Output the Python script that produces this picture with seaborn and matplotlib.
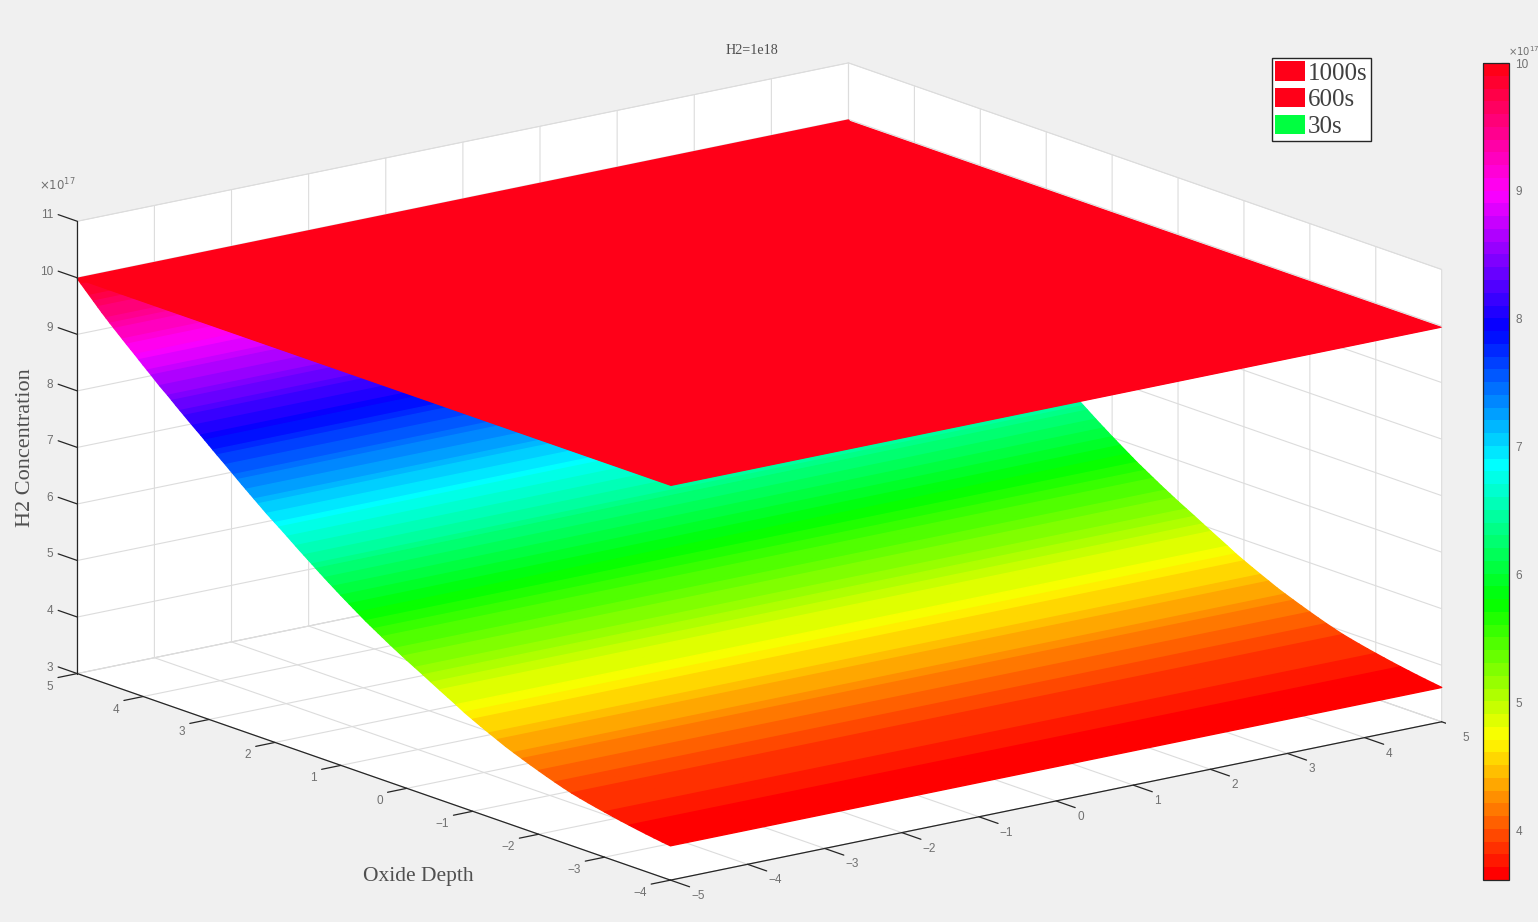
import numpy as np
import matplotlib
matplotlib.use("Agg")
import matplotlib.pyplot as plt
import seaborn as sns
from matplotlib.cm import ScalarMappable
from matplotlib.colors import ListedColormap, Normalize
from matplotlib.patches import Patch
from mpl_toolkits.mplot3d import proj3d

W, H = 1538, 922

# data, concentration in units of 1e17
width_pos = [-5, 5]
depth_pos = [-4.0, -3.875, -3.75, -3.625, -3.5, -3.375, -3.25, -3.125, -3.0, -2.875, -2.75, -2.625, -2.5,
             -2.375, -2.25, -2.125, -2.0, -1.875, -1.75, -1.625, -1.5, -1.375, -1.25, -1.125, -1.0,
             -0.875, -0.75, -0.625, -0.5, -0.375, -0.25, -0.125,
             0.0, 0.0625, 0.125, 0.1875, 0.25, 0.3125, 0.375, 0.4375, 0.5, 0.5625, 0.625, 0.6875, 0.75,
             0.8125, 0.875, 0.9375, 1.0, 1.0625, 1.125, 1.1875, 1.25, 1.3125, 1.375, 1.4375, 1.5,
             1.5625, 1.625, 1.6875, 1.75, 1.8125, 1.875, 1.9375, 2.0, 2.0625, 2.125, 2.1875, 2.25,
             2.3125, 2.375, 2.4375, 2.5, 2.5625, 2.625, 2.6875, 2.75, 2.8125, 2.875, 2.9375, 3.0,
             3.0625, 3.125, 3.1875, 3.25, 3.3125, 3.375, 3.4375, 3.5, 3.5625, 3.625, 3.6875, 3.75,
             3.8125, 3.875, 3.9375, 4.0, 4.0625, 4.125, 4.1875, 4.25, 4.3125, 4.375, 4.4375, 4.5,
             4.5625, 4.625, 4.6875, 4.75, 4.8125, 4.875, 4.9375, 5.0]
conc_30s = [3.607, 3.627, 3.648, 3.670, 3.694, 3.719, 3.745, 3.773, 3.802, 3.832, 3.864, 3.898, 3.934,
            3.978, 4.025, 4.075, 4.127, 4.181, 4.236, 4.293, 4.352, 4.42, 4.487, 4.556, 4.627,
            4.70, 4.785, 4.865, 4.945, 5.027, 5.11, 5.19,
            5.27, 5.312, 5.355, 5.397, 5.44, 5.485, 5.53, 5.575, 5.62, 5.665, 5.71, 5.76, 5.81,
            5.86, 5.91, 5.96, 6.01, 6.062, 6.115, 6.167, 6.22, 6.275, 6.33, 6.385, 6.44,
            6.495, 6.55, 6.607, 6.665, 6.722, 6.78, 6.835, 6.89, 6.945, 7.0, 7.06, 7.12,
            7.18, 7.24, 7.30, 7.36, 7.422, 7.485, 7.547, 7.61, 7.67, 7.73, 7.792, 7.855,
            7.917, 7.98, 8.04, 8.10, 8.162, 8.225, 8.287, 8.35, 8.415, 8.48, 8.54, 8.60,
            8.667, 8.735, 8.80, 8.865, 8.932, 9.0, 9.065, 9.13, 9.197, 9.265, 9.332, 9.40,
            9.47, 9.54, 9.615, 9.69, 9.765, 9.84, 9.915, 9.99]
conc_600s = [9.98, 9.98]
conc_1000s = [9.99, 9.99]
x_ticks = [-5, -4, -3, -2, -1, 0, 1, 2, 3, 4, 5]
y_ticks = [-4, -3, -2, -1, 0, 1, 2, 3, 4, 5]
z_ticks = [3, 4, 5, 6, 7, 8, 9, 10, 11]
cbar_ticks = [4, 5, 6, 7, 8, 9, 10]
legend_labels = ["1000s", "600s", "30s"]
legend_colors = ["#ff0018", "#ff0018", "#00ff40"]

sns.set_theme(style="white", rc={"grid.color": "#dcdcdc", "grid.linewidth": 0.8})
plt.rcParams["font.family"] = ["Liberation Sans", "DejaVu Sans"]

GRAY = "#707070"
DARK = "#262626"
SERIF = "Liberation Serif"

# matlab hsv(64) colormap
cmap = ListedColormap(sns.hls_palette(64, h=0, l=0.5, s=1))
norm = Normalize(3.617, 10.0)

fig = plt.figure(figsize=(W / 100, H / 100), dpi=100, facecolor="#f0f0f0")

# box aspect + view worked out so the orthographic box lands on the reference corners
S = 1411.6
ax = fig.add_axes([34.6 / W, -274.4 / H, S / W, S / H], projection="3d",
                  proj_type="ortho", computed_zorder=False)
ax.set_facecolor("none")
ax.set_box_aspect((972.4, 974.0, 469.4))
ax.view_init(elev=15.51, azim=-127.52)

X, Y = np.meshgrid(width_pos, depth_pos)
Z = np.column_stack([conc_30s, conc_30s])
# facet colour from the mean of its two rows, edges same colour so no seams
row_mean = np.column_stack([np.r_[(Z[:-1, 0] + Z[1:, 0]) / 2, Z[-1, 0]]] * 2)
ax.plot_surface(X, Y, Z, facecolors=cmap(norm(row_mean)), rstride=1, cstride=1, linewidth=1.0,
                antialiased=True, shade=False, zorder=1)

X2, Y2 = np.meshgrid(width_pos, [depth_pos[0], depth_pos[-1]])
ax.plot_surface(X2, Y2, np.array([conc_600s, conc_600s]), cmap=cmap, norm=norm, linewidth=0,
                antialiased=True, shade=False, zorder=2)
ax.plot_surface(X2, Y2, np.array([conc_1000s, conc_1000s]), cmap=cmap, norm=norm, linewidth=0,
                antialiased=True, shade=False, zorder=3)

ax.set_xlim(-5, 5, view_margin=0)
ax.set_ylim(-4, 5, view_margin=0)
ax.set_zlim(3, 11, view_margin=0)
ax.set_xticks(x_ticks)
ax.set_yticks(y_ticks)
ax.set_zticks(z_ticks)
ax.set_xticklabels([])
ax.set_yticklabels([])
ax.set_zticklabels([])
ax.grid(True)
for axis in (ax.xaxis, ax.yaxis, ax.zaxis):
    axis.set_pane_color("white")
    axis.pane.set_edgecolor("#d9d9d9")
    axis.pane.set_linewidth(0.5)
    axis.line.set_color((0, 0, 0, 0))
    axis.set_tick_params(color=(0, 0, 0, 0))

# front edges and ticks, matlab style
x0, x1 = ax.get_xlim()
y0, y1 = ax.get_ylim()
z0, z1 = ax.get_zlim()
line = dict(color=DARK, lw=0.9, zorder=4)
ax.plot([x0, x1], [y0, y0], [z0, z0], **line)
ax.plot([x0, x0], [y0, y1], [z0, z0], **line)
ax.plot([x0, x0], [y1, y1], [z0, z1], **line)


def tick_label(pos, text, dx, dy, ha):
    M = ax.get_proj()
    px, py, _ = proj3d.proj_transform(pos[0], pos[1], pos[2], M)
    ax.annotate(text, xy=(px, py), xytext=(dx, dy), textcoords="offset pixels", ha=ha, va="center",
                color=GRAY, fontsize=8.5, annotation_clip=False)


for v in x_ticks:
    ax.plot([v, v], [y0, y0 - 0.29], [z0, z0], **line)
    tick_label((v, y0, z0), str(v).replace("-", "\u2212"), 21, -16, "left")
for v in y_ticks:
    ax.plot([x0, x0 - 0.25], [v, v], [z0, z0], **line)
    tick_label((x0, v, z0), str(v).replace("-", "\u2212"), -24, -13, "right")
for v in z_ticks:
    ax.plot([x0, x0], [y1, y1 + 0.29], [v, v], **line)
    tick_label((x0, y1, v), str(v), -24, 6, "right")

fig.text(39 / W, 1 - 190 / H, r"$\times10^{17}$", color=GRAY, fontsize=8.5, ha="left", va="baseline")
fig.text(752 / W, 1 - 51 / H, "H2=1e18", family=SERIF, color="#505050", fontsize=10.2, ha="center", va="center")
fig.text(26 / W, 1 - 448 / H, "H2 Concentration", family=SERIF, color="#505050", fontsize=16,
         rotation=90, ha="center", va="center")
fig.text(418 / W, 1 - 876 / H, "Oxide Depth", family=SERIF, color="#505050", fontsize=15.5,
         ha="center", va="center")

# colorbar
cax = fig.add_axes([1482.5 / W, (H - 880) / H, 26 / W, 817 / H])
cb = fig.colorbar(ScalarMappable(norm=norm, cmap=cmap), cax=cax, ticks=cbar_ticks)
cb.outline.set_linewidth(0.9)
cb.outline.set_edgecolor(DARK)
cax.tick_params(direction="in", length=6, width=0.8, color=DARK, labelcolor=GRAY, labelsize=8.5, pad=5,
                right=True)
fig.text(1508 / W, 1 - 56 / H, r"$\times10^{17}$", color=GRAY, fontsize=7.2, ha="left", va="baseline")

# legend
handles = [Patch(facecolor=c, edgecolor="none") for c in legend_colors]
fig.legend(handles, legend_labels, loc="upper left", bbox_to_anchor=(1271.5 / W, 1 - 58 / H),
           borderaxespad=0, prop={"family": SERIF, "size": 18}, labelcolor="#404040",
           frameon=True, fancybox=False, framealpha=1, facecolor="white", edgecolor=DARK,
           handlelength=1.2, handleheight=0.82, handletextpad=0.12, borderpad=0.13, labelspacing=0.13)

fig.savefig("out.png", dpi=100, facecolor=fig.get_facecolor())
